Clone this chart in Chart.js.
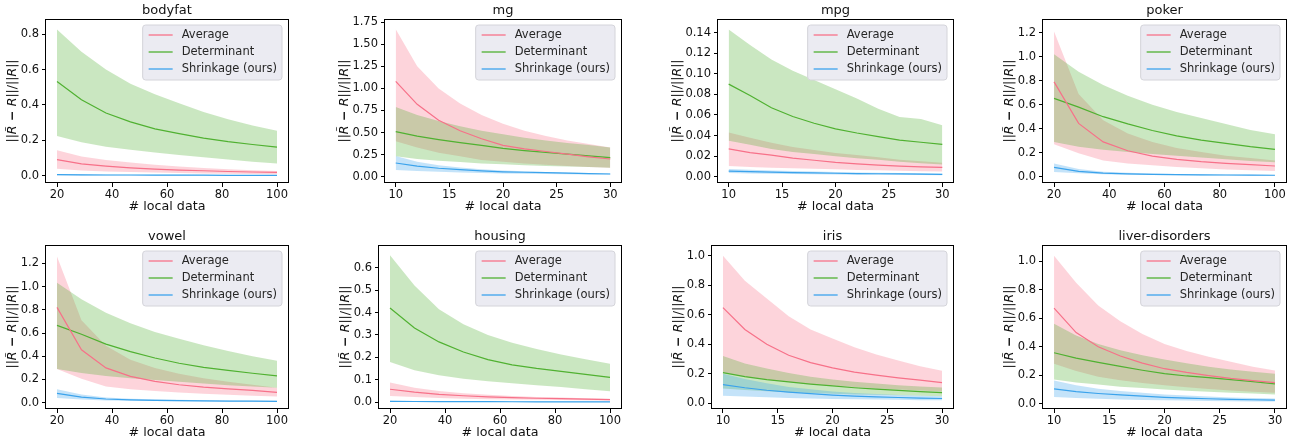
<!DOCTYPE html>
<html>
<head>
<meta charset="utf-8">
<script src="https://cdn.jsdelivr.net/npm/chart.js@4.4.0/dist/chart.umd.min.js"></script>
<style>
  html, body { margin: 0; padding: 0; background: #ffffff; }
  #wrap { position: relative; width: 1300px; height: 443px; overflow: hidden; background: #ffffff; }
  #wrap canvas { position: absolute; }
</style>
</head>
<body>
<div id="wrap"></div>
<script>
// ---- x positions (number of local data points) ----
const xLarge = [20, 28.9, 37.8, 46.7, 55.6, 64.4, 73.3, 82.2, 91.1, 100];
const xSmall = [10, 12, 14, 16, 18, 20, 22, 24, 26, 28, 30];
const xTicksLarge = [20, 40, 60, 80, 100];
const xTicksSmall = [10, 15, 20, 25, 30];

const seriesNames = ['Average', 'Determinant', 'Shrinkage (ours)'];

// ---- bodyfat ----
const bodyfatAvg   = [0.092, 0.068, 0.055, 0.045, 0.038, 0.033, 0.029, 0.025, 0.022, 0.020];
const bodyfatAvgHi = [0.145, 0.110, 0.090, 0.075, 0.063, 0.053, 0.045, 0.038, 0.032, 0.028];
const bodyfatAvgLo = [0.040, 0.030, 0.025, 0.022, 0.019, 0.016, 0.014, 0.012, 0.011, 0.010];
const bodyfatDet   = [0.533, 0.430, 0.355, 0.305, 0.265, 0.238, 0.213, 0.193, 0.177, 0.162];
const bodyfatDetHi = [0.826, 0.700, 0.600, 0.520, 0.460, 0.410, 0.360, 0.320, 0.285, 0.255];
const bodyfatDetLo = [0.225, 0.190, 0.165, 0.147, 0.132, 0.118, 0.105, 0.093, 0.080, 0.070];
const bodyfatShr   = [0.007, 0.006, 0.005, 0.005, 0.004, 0.004, 0.004, 0.003, 0.003, 0.003];
const bodyfatShrHi = [0.011, 0.009, 0.008, 0.007, 0.006, 0.006, 0.005, 0.005, 0.005, 0.004];
const bodyfatShrLo = [0.004, 0.003, 0.003, 0.003, 0.002, 0.002, 0.002, 0.002, 0.002, 0.002];
const bodyfatYTicks = [0, 0.2, 0.4, 0.6, 0.8];

// ---- mg ----
const mgAvg   = [1.08, 0.82, 0.64, 0.52, 0.43, 0.355, 0.315, 0.285, 0.255, 0.225, 0.20];
const mgAvgHi = [1.67, 1.25, 1.00, 0.83, 0.70, 0.60, 0.52, 0.46, 0.41, 0.37, 0.33];
const mgAvgLo = [0.40, 0.33, 0.27, 0.23, 0.19, 0.17, 0.15, 0.135, 0.12, 0.11, 0.10];
const mgDet   = [0.51, 0.46, 0.42, 0.385, 0.355, 0.32, 0.295, 0.275, 0.255, 0.235, 0.215];
const mgDetHi = [0.79, 0.70, 0.63, 0.57, 0.52, 0.48, 0.44, 0.41, 0.38, 0.36, 0.33];
const mgDetLo = [0.23, 0.20, 0.18, 0.165, 0.15, 0.14, 0.13, 0.12, 0.115, 0.11, 0.10];
const mgShr   = [0.155, 0.12, 0.095, 0.08, 0.065, 0.055, 0.05, 0.045, 0.04, 0.035, 0.03];
const mgShrHi = [0.235, 0.17, 0.13, 0.105, 0.085, 0.07, 0.06, 0.053, 0.047, 0.042, 0.038];
const mgShrLo = [0.075, 0.065, 0.055, 0.047, 0.04, 0.035, 0.032, 0.03, 0.027, 0.025, 0.023];
const mgYTicks = [0, 0.25, 0.5, 0.75, 1.0, 1.25, 1.5, 1.75];

// ---- mpg ----
const mpgAvg   = [0.027, 0.0235, 0.021, 0.018, 0.016, 0.014, 0.0125, 0.0113, 0.0103, 0.0096, 0.009];
const mpgAvgHi = [0.043, 0.038, 0.033, 0.029, 0.026, 0.023, 0.021, 0.019, 0.0165, 0.015, 0.0137];
const mpgAvgLo = [0.0105, 0.0095, 0.0088, 0.0082, 0.0077, 0.0072, 0.0066, 0.0062, 0.0058, 0.0054, 0.005];
const mpgDet   = [0.090, 0.079, 0.067, 0.0585, 0.052, 0.0465, 0.0425, 0.039, 0.0355, 0.0335, 0.0315];
const mpgDetHi = [0.143, 0.128, 0.114, 0.103, 0.094, 0.085, 0.076, 0.066, 0.058, 0.056, 0.050];
const mpgDetLo = [0.035, 0.031, 0.027, 0.024, 0.022, 0.020, 0.018, 0.0165, 0.0145, 0.013, 0.012];
const mpgShr   = [0.0055, 0.005, 0.0045, 0.004, 0.0037, 0.0034, 0.0031, 0.0029, 0.0027, 0.0025, 0.0023];
const mpgShrHi = [0.0075, 0.0068, 0.0061, 0.0055, 0.005, 0.0046, 0.0042, 0.0039, 0.0036, 0.0033, 0.003];
const mpgShrLo = [0.0035, 0.0032, 0.0029, 0.0026, 0.0024, 0.0022, 0.002, 0.0019, 0.0018, 0.0016, 0.0015];
const mpgYTicks = [0, 0.02, 0.04, 0.06, 0.08, 0.10, 0.12, 0.14];

// ---- poker ----
const pokerAvg   = [0.79, 0.444, 0.29, 0.216, 0.172, 0.145, 0.125, 0.111, 0.10, 0.089];
const pokerAvgHi = [1.21, 0.69, 0.47, 0.36, 0.29, 0.24, 0.205, 0.175, 0.155, 0.135];
const pokerAvgLo = [0.27, 0.195, 0.135, 0.11, 0.095, 0.08, 0.07, 0.06, 0.053, 0.047];
const pokerDet   = [0.653, 0.58, 0.50, 0.44, 0.385, 0.34, 0.305, 0.277, 0.25, 0.228];
const pokerDetHi = [1.02, 0.875, 0.765, 0.675, 0.60, 0.54, 0.49, 0.44, 0.39, 0.353];
const pokerDetLo = [0.29, 0.25, 0.225, 0.205, 0.19, 0.175, 0.16, 0.145, 0.13, 0.12];
const pokerShr   = [0.078, 0.045, 0.03, 0.024, 0.02, 0.018, 0.016, 0.014, 0.013, 0.012];
const pokerShrHi = [0.11, 0.065, 0.042, 0.033, 0.027, 0.023, 0.02, 0.018, 0.016, 0.015];
const pokerShrLo = [0.04, 0.028, 0.02, 0.016, 0.014, 0.012, 0.011, 0.01, 0.009, 0.008];
const pokerYTicks = [0, 0.2, 0.4, 0.6, 0.8, 1.0, 1.2];

// ---- vowel ----
const vowelAvg   = [0.821, 0.456, 0.30, 0.227, 0.184, 0.155, 0.135, 0.12, 0.106, 0.089];
const vowelAvgHi = [1.26, 0.71, 0.49, 0.37, 0.30, 0.25, 0.21, 0.18, 0.155, 0.13];
const vowelAvgLo = [0.29, 0.207, 0.14, 0.115, 0.10, 0.087, 0.077, 0.068, 0.06, 0.053];
const vowelDet   = [0.666, 0.59, 0.505, 0.44, 0.385, 0.34, 0.305, 0.278, 0.254, 0.232];
const vowelDetHi = [1.034, 0.89, 0.775, 0.685, 0.61, 0.55, 0.495, 0.445, 0.40, 0.362];
const vowelDetLo = [0.29, 0.255, 0.23, 0.21, 0.195, 0.18, 0.165, 0.15, 0.14, 0.13];
const vowelShr   = [0.08, 0.048, 0.032, 0.025, 0.021, 0.018, 0.016, 0.014, 0.013, 0.012];
const vowelShrHi = [0.115, 0.07, 0.045, 0.035, 0.029, 0.025, 0.022, 0.019, 0.017, 0.016];
const vowelShrLo = [0.04, 0.028, 0.02, 0.016, 0.014, 0.012, 0.011, 0.01, 0.009, 0.008];
const vowelYTicks = [0, 0.2, 0.4, 0.6, 0.8, 1.0, 1.2];

// ---- housing ----
const housingAvg   = [0.058, 0.045, 0.035, 0.029, 0.024, 0.021, 0.018, 0.016, 0.014, 0.012];
const housingAvgHi = [0.088, 0.065, 0.05, 0.04, 0.033, 0.028, 0.024, 0.021, 0.018, 0.016];
const housingAvgLo = [0.028, 0.023, 0.019, 0.016, 0.014, 0.012, 0.011, 0.01, 0.009, 0.008];
const housingDet   = [0.42, 0.331, 0.269, 0.224, 0.19, 0.167, 0.151, 0.138, 0.124, 0.111];
const housingDetHi = [0.655, 0.52, 0.415, 0.348, 0.30, 0.265, 0.237, 0.213, 0.192, 0.172];
const housingDetLo = [0.18, 0.143, 0.12, 0.105, 0.094, 0.085, 0.076, 0.068, 0.058, 0.049];
const housingShr   = [0.004, 0.0035, 0.003, 0.0028, 0.0026, 0.0024, 0.0022, 0.002, 0.0019, 0.0018];
const housingShrHi = [0.007, 0.006, 0.005, 0.0045, 0.004, 0.0037, 0.0034, 0.0031, 0.0029, 0.0027];
const housingShrLo = [0.002, 0.0017, 0.0015, 0.0013, 0.0012, 0.0011, 0.001, 0.0009, 0.0008, 0.0008];
const housingYTicks = [0, 0.1, 0.2, 0.3, 0.4, 0.5, 0.6];

// ---- iris ----
const irisAvg   = [0.648, 0.50, 0.40, 0.325, 0.275, 0.24, 0.211, 0.19, 0.172, 0.156, 0.14];
const irisAvgHi = [1.0, 0.83, 0.71, 0.59, 0.50, 0.438, 0.38, 0.33, 0.29, 0.25, 0.22];
const irisAvgLo = [0.21, 0.18, 0.16, 0.145, 0.13, 0.12, 0.11, 0.10, 0.093, 0.087, 0.08];
const irisDet   = [0.208, 0.18, 0.16, 0.145, 0.13, 0.118, 0.105, 0.095, 0.087, 0.079, 0.072];
const irisDetHi = [0.32, 0.27, 0.235, 0.205, 0.18, 0.16, 0.145, 0.133, 0.122, 0.113, 0.106];
const irisDetLo = [0.10, 0.09, 0.082, 0.075, 0.07, 0.065, 0.06, 0.057, 0.054, 0.051, 0.048];
const irisShr   = [0.126, 0.105, 0.088, 0.075, 0.065, 0.055, 0.048, 0.043, 0.039, 0.035, 0.032];
const irisShrHi = [0.2, 0.165, 0.135, 0.11, 0.095, 0.08, 0.07, 0.062, 0.056, 0.051, 0.047];
const irisShrLo = [0.05, 0.045, 0.04, 0.036, 0.032, 0.029, 0.027, 0.025, 0.023, 0.021, 0.02];
const irisYTicks = [0, 0.2, 0.4, 0.6, 0.8, 1.0];

// ---- liver-disorders ----
const liverAvg   = [0.672, 0.50, 0.40, 0.335, 0.285, 0.246, 0.22, 0.198, 0.178, 0.162, 0.148];
const liverAvgHi = [1.04, 0.85, 0.69, 0.58, 0.49, 0.42, 0.37, 0.33, 0.295, 0.26, 0.234];
const liverAvgLo = [0.28, 0.23, 0.19, 0.165, 0.145, 0.13, 0.115, 0.103, 0.093, 0.085, 0.078];
const liverDet   = [0.358, 0.32, 0.29, 0.262, 0.235, 0.211, 0.195, 0.183, 0.17, 0.155, 0.14];
const liverDetHi = [0.562, 0.48, 0.42, 0.375, 0.34, 0.31, 0.285, 0.26, 0.24, 0.225, 0.21];
const liverDetLo = [0.17, 0.15, 0.135, 0.12, 0.11, 0.10, 0.092, 0.085, 0.078, 0.072, 0.065];
const liverShr   = [0.105, 0.085, 0.072, 0.062, 0.053, 0.045, 0.04, 0.035, 0.031, 0.028, 0.025];
const liverShrHi = [0.164, 0.13, 0.105, 0.09, 0.077, 0.065, 0.057, 0.05, 0.044, 0.04, 0.036];
const liverShrLo = [0.047, 0.04, 0.035, 0.03, 0.027, 0.024, 0.022, 0.02, 0.018, 0.016, 0.015];
const liverYTicks = [0, 0.2, 0.4, 0.6, 0.8, 1.0];

// ---- styling ----
const FONT = "'DejaVu Sans', 'Liberation Sans', sans-serif";
const LINE_COLORS = ['#f77189', '#50b131', '#3ba3ec'];
const BAND_COLORS = ['rgba(247,113,137,0.3)', 'rgba(80,177,49,0.3)', 'rgba(59,163,236,0.3)'];
const TEXT = '#111111';

// panel layout: canvas box and plot-area box (page pixels), axis ranges
const panels = [
  { title: 'bodyfat', xs: xLarge, xt: xTicksLarge, xr: [16, 104], yt: bodyfatYTicks, dec: 1, yr: [-0.04, 0.885],
    box: [0, 0, 325, 222], plot: [46, 19, 288, 183],
    s: [[bodyfatAvg, bodyfatAvgHi, bodyfatAvgLo], [bodyfatDet, bodyfatDetHi, bodyfatDetLo], [bodyfatShr, bodyfatShrHi, bodyfatShrLo]] },
  { title: 'mg', xs: xSmall, xt: xTicksSmall, xr: [9, 31], yt: mgYTicks, dec: 2, yr: [-0.072, 1.787],
    box: [325, 0, 325, 222], plot: [385, 19, 621, 183],
    s: [[mgAvg, mgAvgHi, mgAvgLo], [mgDet, mgDetHi, mgDetLo], [mgShr, mgShrHi, mgShrLo]] },
  { title: 'mpg', xs: xSmall, xt: xTicksSmall, xr: [9, 31], yt: mpgYTicks, dec: 2, yr: [-0.0061, 0.1533],
    box: [650, 0, 320, 222], plot: [718, 19, 953, 183],
    s: [[mpgAvg, mpgAvgHi, mpgAvgLo], [mpgDet, mpgDetHi, mpgDetLo], [mpgShr, mpgShrHi, mpgShrLo]] },
  { title: 'poker', xs: xLarge, xt: xTicksLarge, xr: [16, 104], yt: pokerYTicks, dec: 1, yr: [-0.0525, 1.314],
    box: [970, 0, 330, 222], plot: [1043, 19, 1286, 183],
    s: [[pokerAvg, pokerAvgHi, pokerAvgLo], [pokerDet, pokerDetHi, pokerDetLo], [pokerShr, pokerShrHi, pokerShrLo]] },
  { title: 'vowel', xs: xLarge, xt: xTicksLarge, xr: [16, 104], yt: vowelYTicks, dec: 1, yr: [-0.054, 1.358],
    box: [0, 222, 325, 221], plot: [46, 245, 288, 409],
    s: [[vowelAvg, vowelAvgHi, vowelAvgLo], [vowelDet, vowelDetHi, vowelDetLo], [vowelShr, vowelShrHi, vowelShrLo]] },
  { title: 'housing', xs: xLarge, xt: xTicksLarge, xr: [16, 104], yt: housingYTicks, dec: 1, yr: [-0.030, 0.701],
    box: [325, 222, 325, 221], plot: [379, 245, 621, 409],
    s: [[housingAvg, housingAvgHi, housingAvgLo], [housingDet, housingDetHi, housingDetLo], [housingShr, housingShrHi, housingShrLo]] },
  { title: 'iris', xs: xSmall, xt: xTicksSmall, xr: [9, 31], yt: irisYTicks, dec: 1, yr: [-0.039, 1.072],
    box: [650, 222, 320, 221], plot: [712, 245, 953, 409],
    s: [[irisAvg, irisAvgHi, irisAvgLo], [irisDet, irisDetHi, irisDetLo], [irisShr, irisShrHi, irisShrLo]] },
  { title: 'liver-disorders', xs: xSmall, xt: xTicksSmall, xr: [9, 31], yt: liverYTicks, dec: 1, yr: [-0.037, 1.115],
    box: [970, 222, 330, 221], plot: [1043, 245, 1286, 409],
    s: [[liverAvg, liverAvgHi, liverAvgLo], [liverDet, liverDetHi, liverDetLo], [liverShr, liverShrHi, liverShrLo]] }
];

// frame, title, axis labels and in-axes legend
const panelDecor = {
  id: 'panelDecor',
  afterDraw(chart, args, opts) {
    const ctx = chart.ctx;
    const a = chart.chartArea;
    ctx.save();

    // axes frame
    ctx.strokeStyle = '#000000';
    ctx.lineWidth = 1;
    ctx.strokeRect(Math.round(a.left) - 0.5, Math.round(a.top) + 0.5,
                   Math.round(a.right - a.left) + 1, Math.round(a.bottom - a.top) - 1);

    // title
    ctx.fillStyle = TEXT;
    ctx.font = `13px ${FONT}`;
    ctx.textAlign = 'center';
    ctx.textBaseline = 'middle';
    ctx.fillText(opts.title, (a.left + a.right) / 2, a.top - 8);

    // x axis label
    ctx.font = `12.7px ${FONT}`;
    ctx.fillText('# local data', (a.left + a.right) / 2, a.bottom + 24);

    // y axis label: ||R̃ − R||/||R|| with italic R
    const yScale = chart.scales.y;
    ctx.font = `11.5px ${FONT}`;
    let maxW = 0;
    yScale.ticks.forEach(t => { maxW = Math.max(maxW, ctx.measureText(t.label).width); });
    const cx = a.left - maxW - 15;
    const cy = (a.top + a.bottom) / 2;
    const segs = [
      ['||', `12.5px ${FONT}`], ['R\u0303', `italic 12.5px ${FONT}`], [' \u2212 ', `bold 12.5px ${FONT}`],
      ['R', `italic 12.5px ${FONT}`], ['||/||', `12.5px ${FONT}`], ['R', `italic 12.5px ${FONT}`], ['||', `12.5px ${FONT}`]
    ];
    let total = 0;
    segs.forEach(s => { ctx.font = s[1]; s.push(ctx.measureText(s[0]).width); total += s[2]; });
    ctx.translate(cx, cy);
    ctx.rotate(-Math.PI / 2);
    ctx.textAlign = 'left';
    let px = -total / 2;
    segs.forEach(s => { ctx.font = s[1]; ctx.fillText(s[0], px, 0); px += s[2]; });
    ctx.setTransform(1, 0, 0, 1, 0, 0);

    // legend
    ctx.font = `11.5px ${FONT}`;
    let tw = 0;
    seriesNames.forEach(n => { tw = Math.max(tw, ctx.measureText(n).width); });
    const bw = 39 + tw + 5, bh = 55;
    const bx = a.right - 6 - bw, by = a.top + 6;
    const r = 3;
    ctx.beginPath();
    ctx.moveTo(bx + r, by);
    ctx.arcTo(bx + bw, by, bx + bw, by + bh, r);
    ctx.arcTo(bx + bw, by + bh, bx, by + bh, r);
    ctx.arcTo(bx, by + bh, bx, by, r);
    ctx.arcTo(bx, by, bx + bw, by, r);
    ctx.closePath();
    ctx.fillStyle = '#ebebf2';
    ctx.fill();
    ctx.strokeStyle = '#d4d4da';
    ctx.lineWidth = 1;
    ctx.stroke();
    seriesNames.forEach((n, i) => {
      const ry = by + 10 + i * 17;
      ctx.strokeStyle = LINE_COLORS[i];
      ctx.lineWidth = 1.3;
      ctx.beginPath();
      ctx.moveTo(bx + 6, ry);
      ctx.lineTo(bx + 30, ry);
      ctx.stroke();
      ctx.fillStyle = '#262626';
      ctx.textAlign = 'left';
      ctx.textBaseline = 'middle';
      ctx.fillText(n, bx + 39, ry);
    });
    ctx.restore();
  }
};

const wrap = document.getElementById('wrap');

panels.forEach(p => {
  const [bxp, byp, bwp, bhp] = p.box;
  const [pl, pt, pr, pb] = p.plot;
  const A = pl - bxp, T = pt - byp, R = bxp + bwp - pr, B = byp + bhp - pb;

  const canvas = document.createElement('canvas');
  canvas.width = bwp;
  canvas.height = bhp;
  canvas.style.left = bxp + 'px';
  canvas.style.top = byp + 'px';
  canvas.style.width = bwp + 'px';
  canvas.style.height = bhp + 'px';
  wrap.appendChild(canvas);

  const pts = ys => p.xs.map((x, i) => ({ x: x, y: ys[i] }));

  const lines = p.s.map((ser, i) => ({
    label: seriesNames[i], data: pts(ser[0]), borderColor: LINE_COLORS[i], borderWidth: 1.2,
    pointRadius: 0, tension: 0, fill: false
  }));
  // bands listed so the first series' band is painted first (beneath the others)
  const bands = [];
  [2, 1, 0].forEach(i => {
    bands.push({ label: seriesNames[i] + ' hi', data: pts(p.s[i][1]), borderColor: 'rgba(0,0,0,0)', borderWidth: 0.01,
                 backgroundColor: BAND_COLORS[i], pointRadius: 0, tension: 0, fill: '+1' });
    bands.push({ label: seriesNames[i] + ' lo', data: pts(p.s[i][2]), borderColor: 'rgba(0,0,0,0)', borderWidth: 0.01,
                 pointRadius: 0, tension: 0, fill: false });
  });

  const tickFont = { family: FONT, size: 11.5 };
  new Chart(canvas, {
    type: 'line',
    data: { datasets: lines.concat(bands) },
    options: {
      responsive: false,
      animation: false,
      devicePixelRatio: 1,
      layout: { padding: { left: 0, top: T, right: R, bottom: 0 } },
      plugins: {
        legend: { display: false },
        tooltip: { enabled: false },
        filler: { drawTime: 'beforeDatasetsDraw' },
        panelDecor: { title: p.title }
      },
      scales: {
        x: {
          type: 'linear', min: p.xr[0], max: p.xr[1],
          afterBuildTicks: s => { s.ticks = p.xt.map(v => ({ value: v })); },
          afterFit: s => { s.height = B; s.paddingLeft = 0; s.paddingRight = 0; },
          grid: { display: true, drawOnChartArea: false, drawTicks: true, tickLength: 4, color: '#000000', lineWidth: 1 },
          border: { display: false },
          ticks: { font: tickFont, color: TEXT, padding: 1, maxRotation: 0, autoSkip: false,
                   callback: v => String(v) }
        },
        y: {
          type: 'linear', min: p.yr[0], max: p.yr[1],
          afterBuildTicks: s => { s.ticks = p.yt.map(v => ({ value: v })); },
          afterFit: s => { s.width = A; s.paddingTop = 0; s.paddingBottom = 0; },
          grid: { display: true, drawOnChartArea: false, drawTicks: true, tickLength: 4, color: '#000000', lineWidth: 1 },
          border: { display: false },
          ticks: { font: tickFont, color: TEXT, padding: 3, autoSkip: false,
                   callback: v => Number(v).toFixed(p.dec) }
        }
      }
    },
    plugins: [panelDecor]
  });
});
</script>
</body>
</html>
